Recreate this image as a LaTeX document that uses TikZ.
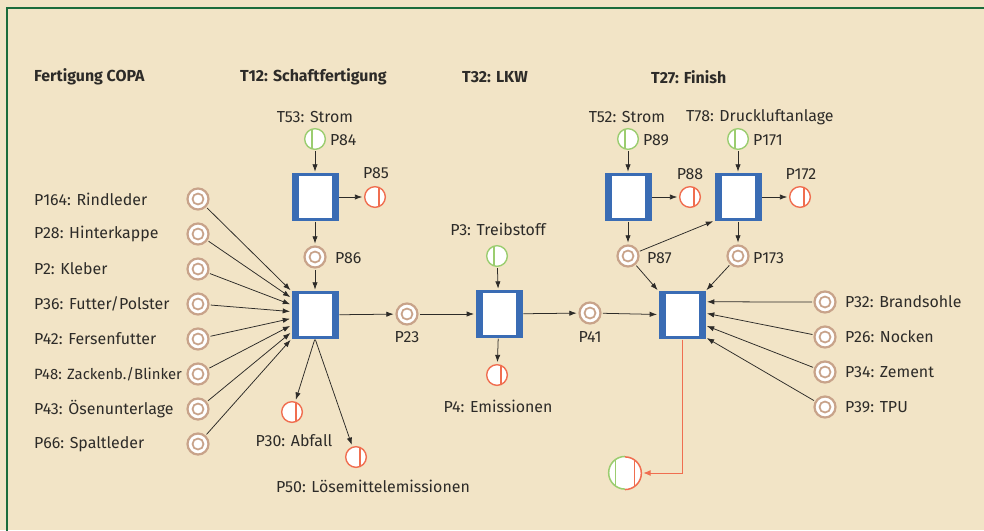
\documentclass[tikz,border=0pt]{standalone}
\usepackage{fontspec}
\setmainfont{Fira Sans}
\usepackage{tikz}
\usetikzlibrary{arrows.meta,positioning,calc}
\definecolor{paper}{RGB}{242,228,198}
\definecolor{frame}{RGB}{28,108,60}
\definecolor{tblue}{RGB}{58,108,180}
\definecolor{pbrown}{RGB}{200,163,138}
\definecolor{pgreen}{RGB}{155,205,112}
\definecolor{pred}{RGB}{240,110,80}
\definecolor{ink}{RGB}{45,43,40}
\tikzset{
  trans/.style  = {rectangle, fill=tblue, draw=tblue, inner sep=0pt,
                   minimum width=1.38cm, minimum height=1.40cm,
                   path picture={\fill[white]
                     ($(path picture bounding box.north west)+(0.21cm,-0.06cm)$) rectangle
                     ($(path picture bounding box.south east)+(-0.19cm,0.06cm)$);}},
  place/.style  = {circle, draw=pbrown, line width=1.9pt, fill=white, inner sep=0pt,
                   minimum size=0.63cm,
                   path picture={\draw[pbrown, line width=1.5pt]
                     (path picture bounding box.center) circle (0.165cm);}},
  inplace/.style  = {circle, draw=pgreen, line width=1.2pt, fill=white, inner sep=0pt,
                   minimum size=0.62cm,
                   path picture={\draw[pgreen, line width=1pt]
                     ([xshift=-0.09cm]path picture bounding box.north) --
                     ([xshift=-0.09cm]path picture bounding box.south);}},
  outplace/.style = {circle, draw=pred, line width=1.2pt, fill=white, inner sep=0pt,
                   minimum size=0.62cm,
                   path picture={\draw[pred, line width=1pt]
                     ([xshift=0.12cm]path picture bounding box.north) --
                     ([xshift=0.12cm]path picture bounding box.south);}},
  mixplace/.style = {circle, fill=white, inner sep=0pt, minimum size=0.98cm,
                   path picture={
                     \draw[pgreen, line width=1pt]
                       ([xshift=-0.29cm]path picture bounding box.north) --
                       ([xshift=-0.29cm]path picture bounding box.south);
                     \draw[pred, line width=1pt]
                       ([xshift=0.29cm]path picture bounding box.north) --
                       ([xshift=0.29cm]path picture bounding box.south);}},
  head/.style   = {font=\fontsize{13.6}{16}\selectfont\bfseries, anchor=west, inner sep=0pt},
  lbl/.style    = {font=\fontsize{13.6}{16}\selectfont, inner sep=0pt},
  flow/.style   = {->, draw=ink, line width=0.65pt, shorten >=1.5pt, shorten <=1pt}
}

\begin{document}
\begin{tikzpicture}[x=0.03cm, y=-0.03cm,
  >={Latex[length=2.2mm,width=1.6mm]},
  every node/.style={text=ink}]

% paper and frame
\fill[paper] (0,0) rectangle (984,530);
\useasboundingbox (0,0) rectangle (984,530);
\draw[frame, line width=1.7pt] (7,540) -- (7,8) -- (990,8);

% headings
\node[head] (hCOPA) at (34,77) {Fertigung COPA};
\node[head] (hT12) at (240,77) {T12: Schaftfertigung};
\node[head] (hT32) at (462,77) {T32: LKW};
\node[head] (hT27) at (651,77) {T27: Finish};

% incoming materials of the COPA part
\begin{scope}[node distance=1.05cm]
\node[place] (in1) at (198,199) {};
\node[place, below of = in1] (in2) {};
\node[place, below of = in2] (in3) {};
\node[place, below of = in3] (in4) {};
\node[place, below of = in4] (in5) {};
\node[place, below of = in5] (in6) {};
\node[place, below of = in6] (in7) {};
\node[place, below of = in7] (in8) {};
\end{scope}
\begin{scope}[every node/.style={lbl, anchor=west, text=ink}]
\node (lin1) at (34,199) {P164: Rindleder};
\node (lin2) at (34,234) {P28: Hinterkappe};
\node (lin3) at (34,269) {P2: Kleber};
\node (lin4) at (34,304) {P36: Futter/Polster};
\node (lin5) at (34,339) {P42: Fersenfutter};
\node[font=\fontsize{12.7}{16}\selectfont] (lin6) at (34,374) {P48: Zackenb./Blinker};
\node (lin7) at (34,409) {P43: Ösenunterlage};
\node (lin8) at (34,444) {P66: Spaltleder};
\end{scope}

% T12: Schaftfertigung
\node[inplace] (P84) at (315,139) {};
\node[trans] (T53) at (315,197) {};
\node[outplace] (P85) at (375,197) {};
\node[place] (P86) at (315,257) {};
\node[trans] (T12) at (315,315) {};
\node[outplace] (P30) at (292,412) {};
\node[outplace] (P50) at (356,457) {};
\node[place] (P23) at (407,314) {};
\node[lbl] (lT53) at (315,117) {T53: Strom};
\node[lbl, anchor=west] (lP84) at (330,140) {P84};
\node[lbl] (lP85) at (376,173) {P85};
\node[lbl, anchor=west] (lP86) at (335,258) {P86};
\node[lbl] (lP30) at (294,441) {P30: Abfall};
\node[lbl] (lP50) at (373,486) {P50: Lösemittelemissionen};
\node[lbl] (lP23) at (407,337) {P23};

% T32: LKW
\node[inplace] (P3) at (497,256) {};
\node[trans] (T32) at (499,314) {};
\node[outplace] (P4) at (497,375) {};
\node[place] (P41) at (590,313) {};
\node[lbl] (lP3) at (498,229) {P3: Treibstoff};
\node[lbl] (lP4) at (498,406) {P4: Emissionen};
\node[lbl] (lP41) at (590,337) {P41};

% T27: Finish
\node[inplace] (P89) at (628,139) {};
\node[inplace] (P171) at (738,139) {};
\node[trans] (T52) at (628,197) {};
\node[trans] (T78) at (738,197) {};
\node[outplace] (P88) at (690,197) {};
\node[outplace] (P172) at (800,197) {};
\node[place] (P87) at (628,256) {};
\node[place] (P173) at (738,256) {};
\node[trans] (T27) at (682,315) {};
\node[mixplace] (out) at (625,473) {};
\draw[pgreen, line width=1.3pt] (out.north) arc[start angle=90, end angle=270, radius=0.49cm];
\draw[pred, line width=1.3pt] (out.south) arc[start angle=-90, end angle=90, radius=0.49cm];
\node[lbl] (lT52) at (627,117) {T52: Strom};
\node[lbl, anchor=west] (lT78) at (686,117) {T78: Druckluftanlage};
\node[lbl, anchor=west] (lP89) at (643,140) {P89};
\node[lbl, anchor=west] (lP171) at (753,140) {P171};
\node[lbl] (lP88) at (690,174) {P88};
\node[lbl] (lP172) at (801,174) {P172};
\node[lbl, anchor=west] (lP87) at (647,258) {P87};
\node[lbl, anchor=west] (lP173) at (753,258) {P173};

\begin{scope}[node distance=1.05cm]
\node[place] (fin1) at (825,302) {};
\node[place, below of = fin1] (fin2) {};
\node[place, below of = fin2] (fin3) {};
\node[place, below of = fin3] (fin4) {};
\end{scope}
\begin{scope}[every node/.style={lbl, anchor=west, text=ink}]
\node (lfin1) at (845,302) {P32: Brandsohle};
\node (lfin2) at (845,337) {P26: Nocken};
\node (lfin3) at (845,372) {P34: Zement};
\node (lfin4) at (845,407) {P39: TPU};
\end{scope}

% arcs into the transitions
\foreach \value in {1,...,8}
  \draw[flow] (in\value) -- ($(T12.north west)!{(\value-1)/7}!(T12.south west)$);

\foreach \value/\frac in {1/0.22,2/0.46,3/0.72,4/0.97}
  \draw[flow] (fin\value) -- ($(T27.north east)!\frac!(T27.south east)$);

\draw[flow] (P84) -- (T53);
\draw[flow] (T53) -- (P85);
\draw[flow] (T53) -- (P86);
\draw[flow] (P86) -- (T12);
\draw[flow] (T12.south) -- (P30);
\draw[flow] (T12.south) -- (P50);
\draw[flow] (T12) -- (P23);
\draw[flow] (P23) -- (T32);
\draw[flow] (P3) -- (T32);
\draw[flow] (T32) -- (P4);
\draw[flow] (T32) -- (P41);
\draw[flow] (P41) -- (T27);

\draw[flow] (P89) -- (T52);
\draw[flow] (T52) -- (P88);
\draw[flow] (T52) -- (P87);
\draw[flow] (P87) -- (T78.south west);
\draw[flow] (P171) -- (T78);
\draw[flow] (T78) -- (P172);
\draw[flow] (T78) -- (P173);
\draw[flow] (P87) -- (T27.north west);
\draw[flow] (P173) -- (T27.north east);

% product of T27
\draw[flow, draw=pred, line width=0.8pt, -{Latex[length=2.2mm,width=1.8mm]}]
  (T27.south) |- (out.east);
\end{tikzpicture}
\end{document}
